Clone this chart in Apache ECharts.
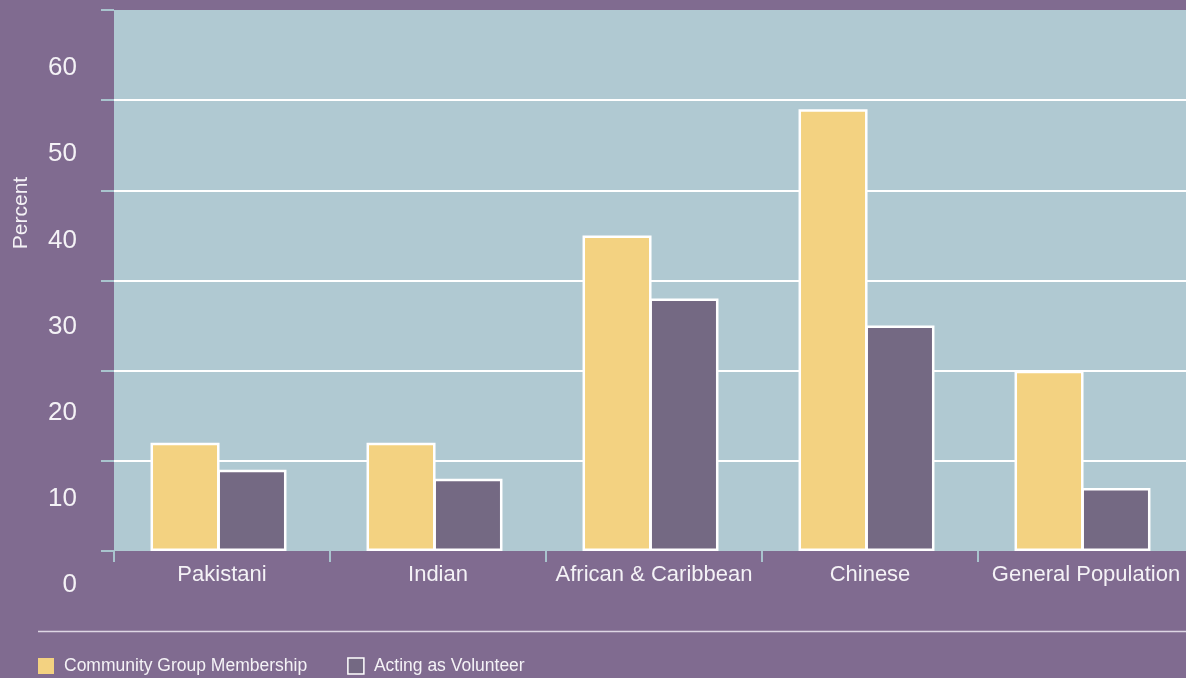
<!DOCTYPE html>
<html>
<head>
<meta charset="utf-8">
<script src="https://cdn.jsdelivr.net/npm/echarts@6/dist/echarts.min.js"></script>
<style>
html,body{margin:0;padding:0;background:#806b90;}
#c{width:1186px;height:678px;}
</style>
</head>
<body>
<div id="c"></div>
<script>
const categories = ['Pakistani', 'Indian', 'African & Caribbean', 'Chinese', 'General Population'];
const communityGroup = [12, 12, 35, 49, 20];
const volunteer = [9, 8, 28, 25, 7];
const seriesNames = ['Community Group Membership', 'Acting as Volunteer'];
const yTickLabels = ['0', '10', '20', '30', '40', '50', '60'];
const axisTitle = 'Percent';

const FONT = "'Liberation Sans', Arial, sans-serif";
const TXT = '#f4f2f6';
const TICK = '#a9c4ce';

const chart = echarts.init(document.getElementById('c'));
chart.setOption({
  backgroundColor: '#806b90',
  animation: false,
  grid: [
    {left: 114, top: 10, width: 1080, height: 541, show: true, backgroundColor: '#b0c9d2', borderWidth: 0, outerBoundsMode: 'none', containLabel: false},
    {left: 114, top: 68, width: 10, height: 517, show: false, outerBoundsMode: 'none', containLabel: false},
    {left: 110.5, top: 10, width: 1080, height: 541, show: false, outerBoundsMode: 'none', containLabel: false}
  ],
  xAxis: [
    {
      type: 'category', gridIndex: 0, data: categories,
      axisLine: {show: false},
      axisTick: {show: true, interval: 0, length: 11, lineStyle: {color: TICK, width: 2}},
      axisLabel: {color: TXT, fontSize: 22, fontFamily: FONT, margin: 13, interval: 0},
      splitLine: {show: false}
    },
    {type: 'value', gridIndex: 1, show: false},
    {type: 'category', gridIndex: 2, data: categories, show: false}
  ],
  yAxis: [
    {
      type: 'value', gridIndex: 0, min: 0, max: 60, interval: 10,
      axisLine: {show: false},
      axisTick: {show: true, length: 13, lineStyle: {color: TICK, width: 2}},
      axisLabel: {show: false},
      splitLine: {show: true, showMinLine: false, showMaxLine: false, lineStyle: {color: '#ffffff', width: 2}}
    },
    {
      type: 'category', gridIndex: 1, data: yTickLabels, boundaryGap: false,
      axisLine: {show: false}, axisTick: {show: false}, splitLine: {show: false},
      axisLabel: {color: TXT, fontSize: 26, fontFamily: FONT, margin: 37, interval: 0}
    },
    {type: 'value', gridIndex: 2, min: 0, max: 60, interval: 10, show: false}
  ],
  legend: {
    left: 38, top: 657, padding: 0, itemWidth: 16, itemHeight: 16, itemGap: 40,
    icon: 'rect',
    textStyle: {color: TXT, fontSize: 17.5, fontFamily: FONT, padding: [0, 0, 0, 5]},
    data: [
      {name: seriesNames[0], itemStyle: {borderWidth: 0}},
      {name: seriesNames[1], itemStyle: {borderColor: '#ffffff', borderWidth: 1.5}}
    ]
  },
  graphic: [
    {type: 'line', shape: {x1: 38, y1: 631.5, x2: 1186, y2: 631.5}, style: {stroke: '#ddd6e4', lineWidth: 1.5}},
    {type: 'text', x: 21, y: 213, rotation: Math.PI / 2,
     style: {text: axisTitle, fill: TXT, fontSize: 21, fontFamily: FONT, align: 'center', verticalAlign: 'middle'}}
  ],
  series: [
    {
      name: seriesNames[0], type: 'bar', xAxisIndex: 2, yAxisIndex: 2, data: communityGroup,
      barWidth: 69, barGap: '-3%',
      itemStyle: {color: '#f3d281', borderColor: '#ffffff', borderWidth: 2.5}
    },
    {
      name: seriesNames[1], type: 'bar', xAxisIndex: 2, yAxisIndex: 2, data: volunteer,
      barWidth: 69, barGap: '-3%',
      itemStyle: {color: '#746983', borderColor: '#ffffff', borderWidth: 2.5}
    }
  ]
});
</script>
</body>
</html>
